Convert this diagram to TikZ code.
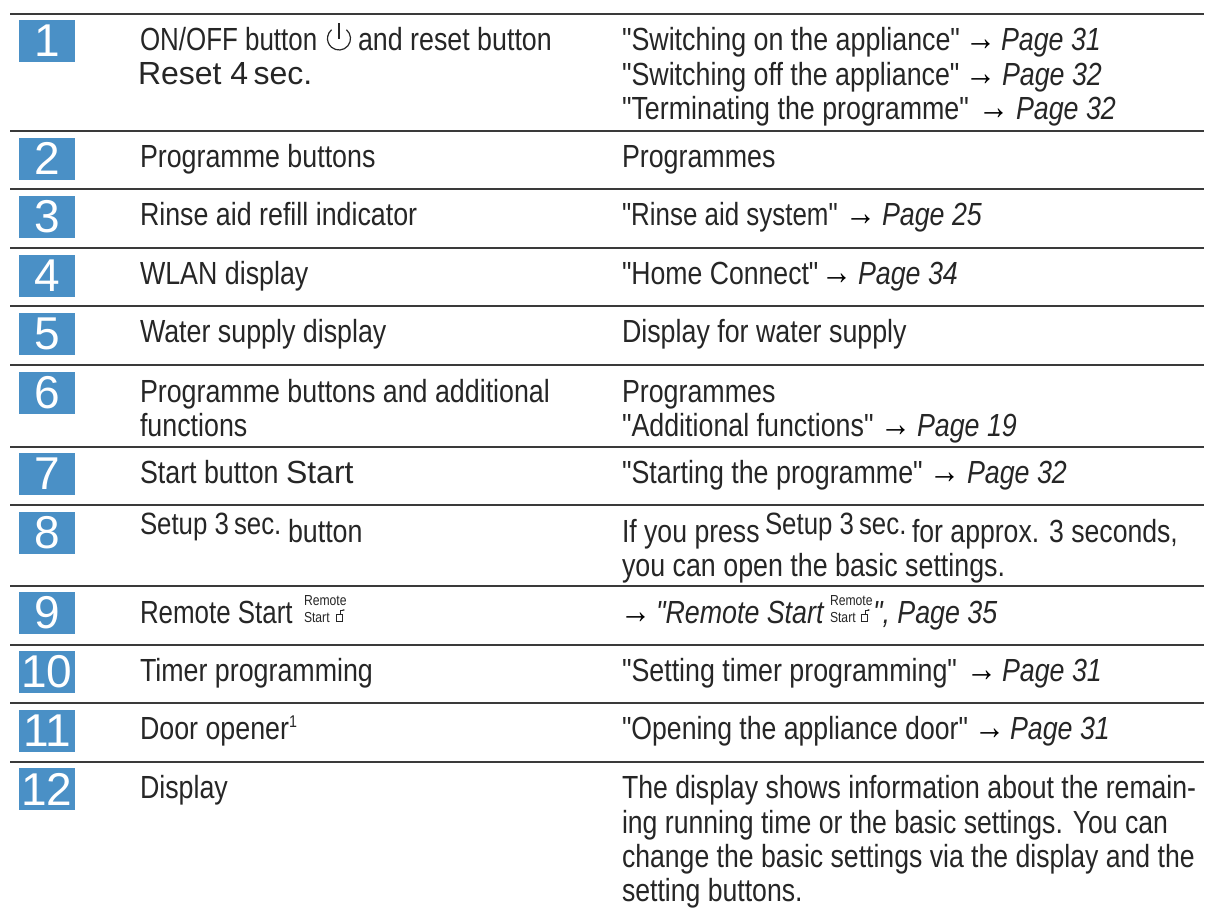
\documentclass[tikz,border=0pt]{standalone}
\usepackage{fontspec}
\usetikzlibrary{arrows.meta}
\setmainfont[FakeStretch=0.838,Ligatures=TeXOff]{Liberation Sans}
\newfontfamily\wideface[Ligatures=TeXOff]{Liberation Sans}
\newfontfamily\tightface[FakeStretch=0.81,Ligatures=TeXOff]{Liberation Sans}
\newfontfamily\slimface[FakeStretch=0.832,Ligatures=TeXOff]{Liberation Sans}
\definecolor{rule}{HTML}{3A3A3A}
\definecolor{badgeblue}{HTML}{4A90C6}
\definecolor{ink}{HTML}{262626}
\newcommand{\bodysize}{\fontsize{32}{34}\selectfont}
\newcommand{\symsize}{\fontsize{30.8}{32}\selectfont}
\newcommand{\tinysize}{\fontsize{14.5}{14.5}\selectfont}
\tikzset{
  x=1pt,y=-1pt,
  sep/.style={draw=rule,line width=2.6pt},
  badge/.style={fill=badgeblue,text=white,minimum width=56pt,minimum height=42pt,inner sep=0pt,font=\wideface\fontsize{46}{46}\selectfont},
  txt/.style={anchor=base west,inner sep=0pt,outer sep=0pt,text=ink,font=\bodysize},
  tighttxt/.style={txt,font=\tightface\bodysize},
  slimtxt/.style={txt,font=\slimface\bodysize},
  widetxt/.style={txt,font=\wideface\bodysize},
  arrowtxt/.style={txt,text=black,font=\fontsize{37}{34}\selectfont},
  pagetxt/.style={txt,font=\bodysize\itshape},
  small/.style={anchor=base west,inner sep=0pt,outer sep=0pt,text=ink,font=\tinysize},
  iconline/.style={draw=ink,line width=1.2pt},
  thinicon/.style={draw=ink,line width=.8pt}
}
\begin{document}
\begin{tikzpicture}
\useasboundingbox (0,0) rectangle (1206,908);
\fill[white] (0,0) rectangle (1206,908);
% rules
\foreach \n/\y in {a/14,b/131,c/189,d/248,e/306,f/365,g/447,h/505,i/586,j/645,k/703,l/762}{
  \coordinate (L\n) at (10,\y);
  \coordinate (R\n) at (1204,\y);
  \draw[sep] (L\n) -- (R\n);
}
% badges
\foreach \t/\y in {1/41,2/158.5,3/217,4/275.5,5/334,6/392.5,7/474,8/533,9/613,10/672,11/730.5,12/789}{
  \node[badge] (b\t) at (47,\y) {\t};
}
% left column
\node[tighttxt] (l1a) at (140,50) {ON/OFF button};
\coordinate (pw) at (339,38.5);
\draw[iconline] (pw) ++(-50:11.5) arc (-50:230:11.5);
\draw[iconline] (339,23) -- (339,38.5);
\node[txt] (l1c) at (358,50) {and reset button};
\node[widetxt] (l1b) at (138,84) {Reset 4\,sec.};
\node[txt] (l2) at (140,167) {Programme buttons};
\node[txt] (l3) at (140,225) {Rinse aid refill indicator};
\node[txt] (l4) at (140,284) {WLAN display};
\node[txt] (l5) at (140,342) {Water supply display};
\node[txt] (l6a) at (140,402) {Programme buttons and additional};
\node[txt] (l6b) at (140,436) {functions};
\node[txt] (l7a) at (140,483) {Start button};
\node[widetxt] (l7b) at (286,483) {Start};
\node[txt,font=\symsize] (l8a) at (140,534) {Setup 3\,sec.};
\node[txt] (l8b) at (288,542) {button};
\node[tighttxt] (l9) at (140,623) {Remote Start};
\node[small] (l9a) at (304,605) {Remote};
\node[small] (l9b) at (304,622) {Start};
\draw[thinicon] (336,614) rectangle (342,621);
\draw[thinicon,-{Stealth[length=2.5pt]}] (340,614) -- (340,610) -- (345,610);
\node[txt] (l10) at (140,681) {Timer programming};
\node[txt] (l11) at (140,739) {Door opener\raisebox{12pt}{\fontsize{17}{17}\selectfont 1}};
\node[txt] (l12) at (140,798) {Display};
% right column
\node[txt] (r1a) at (622,50) {"Switching on the appliance"};
\node[arrowtxt] (r1aa) at (965,50) {→};
\node[pagetxt] (r1ap) at (1001,50) {Page 31};
\node[txt] (r1b) at (622,85) {"Switching off the appliance"};
\node[arrowtxt] (r1ba) at (965,85) {→};
\node[pagetxt] (r1bp) at (1002,85) {Page 32};
\node[txt] (r1c) at (622,119) {"Terminating the programme"};
\node[arrowtxt] (r1ca) at (978,119) {→};
\node[pagetxt] (r1cp) at (1016,119) {Page 32};
\node[txt] (r2) at (622,167) {Programmes};
\node[tighttxt] (r3) at (622,225) {"Rinse aid system"};
\node[arrowtxt] (r3a) at (845,225) {→};
\node[pagetxt] (r3p) at (882,225) {Page 25};
\node[slimtxt] (r4) at (622,284) {"Home Connect"};
\node[arrowtxt] (r4a) at (821,284) {→};
\node[pagetxt] (r4p) at (858,284) {Page 34};
\node[txt] (r5) at (622,342) {Display for water supply};
\node[txt] (r6a) at (622,402) {Programmes};
\node[txt] (r6b) at (622,436) {"Additional functions"};
\node[arrowtxt] (r6ba) at (880,436) {→};
\node[pagetxt] (r6bp) at (917,436) {Page 19};
\node[txt] (r7) at (622,483) {"Starting the programme"};
\node[arrowtxt] (r7a) at (929,483) {→};
\node[pagetxt] (r7p) at (967,483) {Page 32};
\node[slimtxt] (r8a) at (622,542) {If you press};
\node[txt,font=\symsize] (r8b) at (765,534) {Setup 3\,sec.};
\node[slimtxt] (r8c) at (912,542) {for approx. 3 seconds,};
\node[txt] (r8d) at (622,576) {you can open the basic settings.};
\node[arrowtxt] (r9a) at (620,623) {→};
\node[pagetxt] (r9b) at (656,623) {"Remote Start};
\node[small] (r9c) at (830,605) {Remote};
\node[small] (r9d) at (830,622) {Start};
\draw[thinicon] (861,614) rectangle (867,621);
\draw[thinicon,-{Stealth[length=2.5pt]}] (865,614) -- (865,610) -- (870,610);
\node[pagetxt] (r9e) at (873,623) {", Page 35};
\node[txt] (r10) at (622,681) {"Setting timer programming"};
\node[arrowtxt] (r10a) at (966,681) {→};
\node[pagetxt] (r10p) at (1002,681) {Page 31};
\node[slimtxt] (r11) at (622,739) {"Opening the appliance door"};
\node[arrowtxt] (r11a) at (974,739) {→};
\node[pagetxt] (r11p) at (1010,739) {Page 31};
\node[slimtxt] (r12a) at (622,798) {The display shows information about the remain-};
\node[slimtxt] (r12b) at (622,833) {ing running time or the basic settings. You can};
\node[slimtxt] (r12c) at (622,867) {change the basic settings via the display and the};
\node[slimtxt] (r12d) at (622,901) {setting buttons.};
\end{tikzpicture}
\end{document}
